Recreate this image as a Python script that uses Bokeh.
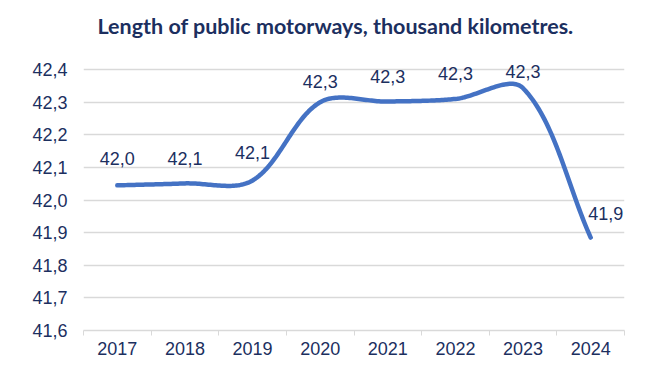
import numpy as np
from bokeh.plotting import figure
from bokeh.models import (ColumnDataSource, FixedTicker, LabelSet, Range1d,
                          CustomJSTickFormatter)
from bokeh.core.properties import value
from bokeh.embed import file_html
from bokeh.resources import INLINE

# ---- data ----
years = ["2017", "2018", "2019", "2020", "2021", "2022", "2023", "2024"]
values = [42.045, 42.051, 42.060, 42.300, 42.302, 42.310, 42.343, 41.885]
y_ticks = [41.6, 41.7, 41.8, 41.9, 42.0, 42.1, 42.2, 42.3, 42.4]
title_text = "Length of public motorways, thousand kilometres."

# ---- style ----
NAVY = "#1C2F5F"
LINE = "#4472C4"
GRID = "#D9D9D9"
label_dy = [27, 25, 28, 21, 25, 25, 17, 24]
label_dx = [0, 0, 0, 0, 0, 0, 0, 15]

W, H = 652, 372
BL, BR, BT, BB = 83, 28, 43, 42
Y0, Y1 = 41.6, 42.48

xs = list(range(len(years)))

# smoothed line (Excel-like Bezier smoothing computed in pixel space)
px_per_x = (W - BL - BR) / len(years)
px_per_y = (H - BT - BB) / (Y1 - Y0)
P = np.array([[x * px_per_x, v * px_per_y] for x, v in zip(xs, values)])
n = len(P)
sx, sy = [], []
for i in range(n - 1):
    p0 = P[i - 1] if i > 0 else P[i]
    p1, p2 = P[i], P[i + 1]
    p3 = P[i + 2] if i + 2 < n else P[i + 1]
    d01 = np.linalg.norm(p1 - p0)
    d12 = np.linalg.norm(p2 - p1)
    d23 = np.linalg.norm(p3 - p2)
    w1 = d12 / (d01 + d12) / 3.0
    w2 = d12 / (d12 + d23) / 3.0
    c1 = p1 + (p2 - p0) * w1
    c2 = p2 - (p3 - p1) * w2
    t = np.linspace(0, 1, 40)[:, None]
    b = ((1 - t) ** 3) * p1 + 3 * ((1 - t) ** 2) * t * c1 + 3 * (1 - t) * t ** 2 * c2 + t ** 3 * p2
    if i > 0:
        b = b[1:]
    sx.extend(b[:, 0] / px_per_x)
    sy.extend(b[:, 1] / px_per_y)

p = figure(width=W, height=H, output_backend="svg", toolbar_location=None,
           x_range=Range1d(-0.5, len(years) - 0.5), y_range=Range1d(Y0, Y1),
           min_border_left=BL, min_border_right=BR, min_border_top=BT,
           min_border_bottom=BB)
p.outline_line_color = None
p.background_fill_color = "white"
p.border_fill_color = "white"

p.title.text = title_text
p.title.text_font = "Lato"
p.title.text_font_style = "bold"
p.title.text_font_size = "21.5px"
p.title.text_color = NAVY
p.title.align = "left"
p.title.offset = 14

FS = "18px"

# x axis
xa = p.xaxis[0]
xa.ticker = FixedTicker(ticks=xs, minor_ticks=[x - 0.5 for x in xs] + [xs[-1] + 0.5])
xa.major_label_overrides = {x: y for x, y in zip(xs, years)}
xa.major_tick_out = 0
xa.major_tick_in = 0
xa.minor_tick_out = 5
xa.minor_tick_in = 0
xa.minor_tick_line_color = GRID
xa.axis_line_color = GRID
xa.axis_line_width = 1.5
xa.major_label_standoff = 6
xa.major_label_text_font = "Liberation Sans"
xa.major_label_text_font_size = FS
xa.major_label_text_color = NAVY

# y axis
ya = p.yaxis[0]
ya.ticker = FixedTicker(ticks=y_ticks)
ya.formatter = CustomJSTickFormatter(code="return tick.toFixed(1).replace('.', ',');")
ya.axis_line_color = None
ya.major_tick_out = 0
ya.major_tick_in = 0
ya.minor_tick_out = 0
ya.minor_tick_in = 0
ya.major_label_standoff = 16
ya.major_label_text_font = "Liberation Sans"
ya.major_label_text_font_size = FS
ya.major_label_text_color = NAVY

p.xgrid.visible = False
p.ygrid.ticker = FixedTicker(ticks=y_ticks)
p.ygrid.grid_line_color = GRID
p.ygrid.grid_line_width = 1.5

p.line(sx, sy, line_color=LINE, line_width=4.5, line_cap="round", line_join="round")

lab_src = ColumnDataSource(dict(
    x=xs, y=values,
    text=[f"{v:.1f}".replace(".", ",") for v in values],
    dx=label_dx, dy=label_dy))
p.add_layout(LabelSet(x="x", y="y", text="text", source=lab_src,
                      x_offset="dx", y_offset="dy",
                      text_align="center", text_baseline="middle",
                      text_font=value("Liberation Sans"), text_font_size=FS,
                      text_color=NAVY))

open("out.html", "w").write(file_html(p, INLINE))
